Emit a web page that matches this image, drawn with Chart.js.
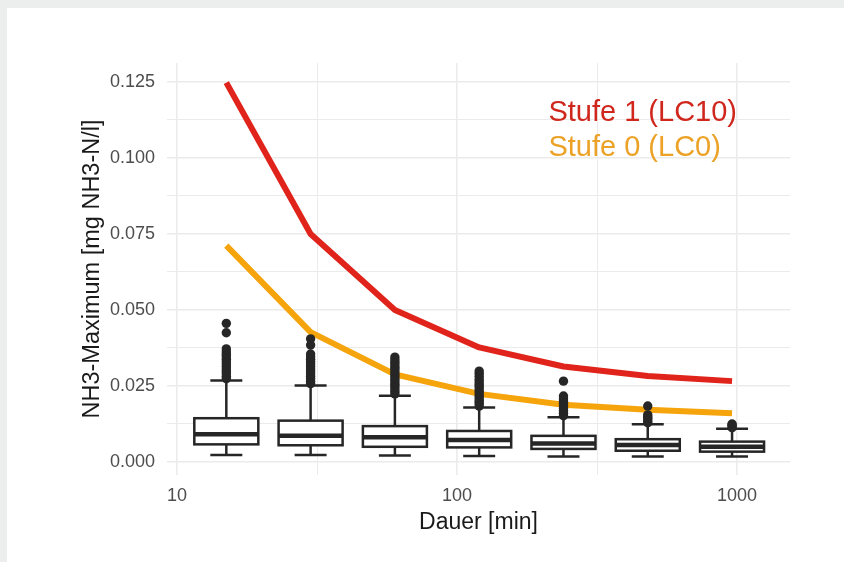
<!DOCTYPE html>
<html><head><meta charset="utf-8">
<script src="https://cdn.jsdelivr.net/npm/chart.js@4.4.1/dist/chart.umd.min.js"></script>
<style>
html,body{margin:0;padding:0;background:#eceeed;width:844px;height:562px;overflow:hidden}
#card{position:absolute;left:7px;top:8px;width:837px;height:554px;background:#fff}
canvas{display:block}
</style></head><body><div id="card"><canvas id="c" width="837" height="554"></canvas></div>
<script>
// ---------- data ----------
const durations = [15, 30, 60, 120, 240, 480, 960];
const stufe1LC10 = [0.1248, 0.0750, 0.0500, 0.0377, 0.0314, 0.0283, 0.0266];
const stufe0LC0  = [0.0712, 0.0427, 0.0288, 0.0224, 0.0188, 0.0172, 0.0160];

const boxLower  = [0.0023, 0.0023, 0.0021, 0.0020, 0.0018, 0.0018, 0.0018];
const boxQ1     = [0.0058, 0.0055, 0.0050, 0.0048, 0.0043, 0.0037, 0.0034];
const boxMedian = [0.0091, 0.0086, 0.0081, 0.0072, 0.0061, 0.0056, 0.0050];
const boxQ3     = [0.0144, 0.0136, 0.0118, 0.0102, 0.0086, 0.0075, 0.0067];
const boxUpper  = [0.0268, 0.0252, 0.0218, 0.0179, 0.0147, 0.0124, 0.0109];

const outliers15  = [0.0274,0.0282,0.0290,0.0298,0.0306,0.0314,0.0322,0.0330,0.0338,0.0346,0.0354,0.0362,0.0372,0.0425,0.0456];
const outliers30  = [0.0258,0.0266,0.0274,0.0282,0.0290,0.0298,0.0306,0.0314,0.0322,0.0330,0.0338,0.0346,0.0355,0.0385,0.0405];
const outliers60  = [0.0224,0.0232,0.0240,0.0248,0.0256,0.0264,0.0272,0.0280,0.0288,0.0296,0.0304,0.0312,0.0320,0.0328,0.0336,0.0345];
const outliers120 = [0.0184,0.0192,0.0200,0.0208,0.0216,0.0224,0.0232,0.0240,0.0248,0.0256,0.0264,0.0272,0.0282,0.0291,0.0299];
const outliers240 = [0.0152,0.0160,0.0168,0.0176,0.0184,0.0192,0.0200,0.0208,0.0217,0.0266];
const outliers480 = [0.0129,0.0136,0.0143,0.0149,0.0155,0.0184];
const outliers960 = [0.0113,0.0118,0.0122,0.0125];
const outliersByDuration = [outliers15, outliers30, outliers60, outliers120, outliers240, outliers480, outliers960];

const yTickValues = [0, 0.025, 0.05, 0.075, 0.1, 0.125];
const yTickLabels = ['0.000', '0.025', '0.050', '0.075', '0.100', '0.125'];
const yMinorValues = [0.0125, 0.0375, 0.0625, 0.0875, 0.1125];
const xTickValues = [10, 100, 1000];
const xTickLabels = ['10', '100', '1000'];
const xMinorValues = [31.62, 316.2];
const legendLabels = ['Stufe 1 (LC10)', 'Stufe 0 (LC0)'];

// ---------- styles ----------
const RED = '#e0241b', ORANGE = '#f5a40c';
const RED_TEXT = '#d0271d', ORANGE_TEXT = '#eba226';
const BOX_COLOR = '#262626';
const BOX_HALF_DEC = 0.1143, CAP_HALF_DEC = 0.0571;
const GRID = '#ebebeb';
Chart.defaults.font.family = "'Liberation Sans', Arial, sans-serif";

const outlierPoints = [];
durations.forEach((d, i) => outliersByDuration[i].forEach(v => outlierPoints.push({x: d, y: v})));

const boxplotPlugin = {
  id: 'boxplots',
  afterDatasetsDraw(chart) {
    const {ctx, scales: {x, y}} = chart;
    ctx.save();
    ctx.strokeStyle = BOX_COLOR;
    ctx.lineCap = 'butt';
    const seg = (x1, y1, x2, y2) => { ctx.beginPath(); ctx.moveTo(x1, y1); ctx.lineTo(x2, y2); ctx.stroke(); };
    durations.forEach((d, i) => {
      const xc = x.getPixelForValue(d);
      const xl = x.getPixelForValue(d / Math.pow(10, BOX_HALF_DEC));
      const xr = x.getPixelForValue(d * Math.pow(10, BOX_HALF_DEC));
      const cl = x.getPixelForValue(d / Math.pow(10, CAP_HALF_DEC));
      const cr = x.getPixelForValue(d * Math.pow(10, CAP_HALF_DEC));
      const ylo = y.getPixelForValue(boxLower[i]);
      const yq1 = y.getPixelForValue(boxQ1[i]);
      const ymd = y.getPixelForValue(boxMedian[i]);
      const yq3 = y.getPixelForValue(boxQ3[i]);
      const yhi = y.getPixelForValue(boxUpper[i]);
      ctx.lineWidth = 2.5;
      seg(xc, yq3, xc, yhi);
      seg(xc, yq1, xc, ylo);
      seg(cl, yhi, cr, yhi);
      seg(cl, ylo, cr, ylo);
      ctx.fillStyle = '#ffffff';
      ctx.fillRect(xl, yq3, xr - xl, yq1 - yq3);
      ctx.strokeRect(xl, yq3, xr - xl, yq1 - yq3);
      ctx.lineWidth = 4.5;
      seg(xl, ymd, xr, ymd);
    });
    ctx.restore();
  }
};

const labelPlugin = {
  id: 'lineLabels',
  afterDraw(chart) {
    const {ctx, scales: {x, y}} = chart;
    ctx.save();
    ctx.font = "29px 'Liberation Sans', Arial, sans-serif";
    ctx.textAlign = 'left';
    ctx.textBaseline = 'middle';
    const lx = x.getPixelForValue(212);
    ctx.fillStyle = RED_TEXT;
    ctx.fillText(legendLabels[0], lx, y.getPixelForValue(0.1147));
    ctx.fillStyle = ORANGE_TEXT;
    ctx.fillText(legendLabels[1], lx, y.getPixelForValue(0.1032));
    ctx.restore();
  }
};

new Chart(document.getElementById('c'), {
  type: 'scatter',
  data: {
    datasets: [
      {label: 'Ausreißer', data: outlierPoints, pointRadius: 4.7, pointHoverRadius: 4.7,
       pointBackgroundColor: BOX_COLOR, pointBorderColor: BOX_COLOR, pointBorderWidth: 0, showLine: false, order: 0},
      {label: legendLabels[0], data: durations.map((d, i) => ({x: d, y: stufe1LC10[i]})), showLine: true,
       borderColor: RED, borderWidth: 6, pointRadius: 0, borderCapStyle: 'butt', borderJoinStyle: 'round', order: 1},
      {label: legendLabels[1], data: durations.map((d, i) => ({x: d, y: stufe0LC0[i]})), showLine: true,
       borderColor: ORANGE, borderWidth: 6, pointRadius: 0, borderCapStyle: 'butt', borderJoinStyle: 'round', order: 2}
    ]
  },
  options: {
    responsive: false,
    animation: false,
    devicePixelRatio: 1,
    layout: {padding: {top: 55, right: 54, left: 0, bottom: 0}},
    plugins: {legend: {display: false}, tooltip: {enabled: false}},
    scales: {
      x: {
        type: 'logarithmic', position: 'bottom', min: 9.21, max: 1546,
        afterBuildTicks(s) { s.ticks = [...xTickValues, ...xMinorValues].sort((a, b) => a - b).map(v => ({value: v})); },
        afterFit(s) { s.height = 87; },
        ticks: {
          autoSkip: false, maxRotation: 0, padding: 10, color: '#4d4d4d', font: {size: 18},
          callback: (v) => { const k = xTickValues.findIndex(t => Math.abs(t - v) < 1e-6); return k >= 0 ? xTickLabels[k] : ''; }
        },
        grid: {color: GRID, drawTicks: false,
               lineWidth: (c) => (c.tick && xTickValues.some(t => Math.abs(t - c.tick.value) < 1e-6)) ? 1.6 : 1},
        border: {display: false},
        title: {display: true, text: 'Dauer [min]', color: '#1a1a1a', font: {size: 23}, padding: {top: 0, bottom: 26}}
      },
      y: {
        type: 'linear', position: 'left', min: -0.00428, max: 0.13125,
        afterBuildTicks(s) { s.ticks = [...yTickValues, ...yMinorValues].sort((a, b) => a - b).map(v => ({value: v})); },
        afterFit(s) { s.width = 160; },
        ticks: {
          autoSkip: false, padding: 12, color: '#4d4d4d', font: {size: 18},
          callback: (v) => { const k = yTickValues.findIndex(t => Math.abs(t - v) < 1e-7); return k >= 0 ? yTickLabels[k] : ''; }
        },
        grid: {color: GRID, drawTicks: false,
               lineWidth: (c) => (c.tick && yTickValues.some(t => Math.abs(t - c.tick.value) < 1e-7)) ? 1.6 : 1},
        border: {display: false},
        title: {display: true, text: 'NH3-Maximum [mg NH3-N/l]', color: '#1a1a1a', font: {size: 23.5}, padding: {top: 71, bottom: 0}}
      }
    }
  },
  plugins: [boxplotPlugin, labelPlugin]
});
</script>
</body></html>
